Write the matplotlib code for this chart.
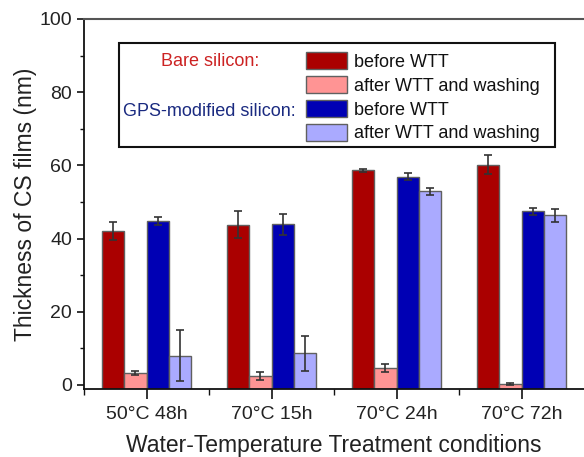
import matplotlib
matplotlib.use('Agg')
import matplotlib.pyplot as plt
import numpy as np
from matplotlib.patches import Rectangle, Patch
from matplotlib.ticker import MultipleLocator, FixedLocator

plt.rcParams['font.family'] = ['Liberation Sans', 'DejaVu Sans']

conditions = ['50°C 48h', '70°C 15h', '70°C 24h', '70°C 72h']

bare_before = [42.0, 43.8, 58.6, 60.2]
bare_before_err = [2.5, 3.7, 0.3, 2.5]
bare_after = [3.3, 2.4, 4.6, 0.2]
bare_after_err = [0.5, 1.0, 1.0, 0.2]
gps_before = [44.8, 43.9, 56.9, 47.4]
gps_before_err = [1.2, 2.8, 1.0, 1.0]
gps_after = [8.0, 8.7, 52.9, 46.3]
gps_after_err = [7.0, 4.8, 1.0, 1.9]

series = [
    (bare_before, bare_before_err, '#aa0000', 'before WTT'),
    (bare_after, bare_after_err, '#ff9494', 'after WTT and washing'),
    (gps_before, gps_before_err, '#0000b4', 'before WTT'),
    (gps_after, gps_after_err, '#aaaaff', 'after WTT and washing'),
]

W, H = 584, 457
fig = plt.figure(figsize=(W / 100, H / 100), dpi=100)


def fx(px):
    return px / W


def fy(py):
    return 1 - py / H


ax = fig.add_axes([fx(84), fy(389.3), fx(500), (389.3 - 19) / H])

y0 = -1.2
ax.set_ylim(y0, 100)
ax.set_xlim(-0.5, 3.5)

x = np.arange(len(conditions))
w = 0.178
offsets = [-1.5 * w, -0.5 * w, 0.5 * w, 1.5 * w]
handles = []
for (vals, errs, col, lab), off in zip(series, offsets):
    vals = np.array(vals)
    # bars start at the bottom spine, which sits a bit below zero
    ax.bar(x + off, vals - y0, bottom=y0, width=w, color=col,
           edgecolor='#606060', linewidth=1.0, zorder=2)
    ax.errorbar(x + off, vals, yerr=errs, fmt='none', ecolor='#333333',
                elinewidth=1.2, capsize=2.6, capthick=1.2, zorder=3)
    handles.append(Patch(facecolor=col, edgecolor='#606060', linewidth=1.0, label=lab))

# axes styling
ax.spines['right'].set_visible(False)
ax.spines['top'].set_color('#555555')
ax.spines['top'].set_linewidth(1.5)
for s in ('left', 'bottom'):
    ax.spines[s].set_color('#111111')
    ax.spines[s].set_linewidth(1.3)

ax.yaxis.set_major_locator(MultipleLocator(20))
ax.yaxis.set_minor_locator(MultipleLocator(10))
ax.xaxis.set_major_locator(FixedLocator(x))
ax.xaxis.set_minor_locator(FixedLocator([-0.5, 0.5, 1.5, 2.5]))
ax.set_xticklabels(conditions)
ax.tick_params(axis='both', which='major', direction='out', length=5, width=1.2,
               labelsize=14, colors='#111111', labelcolor='#222222')
ax.tick_params(axis='both', which='minor', direction='out', length=3, width=1.0,
               colors='#111111')
ax.tick_params(axis='x', which='major', length=7, pad=5)
ax.tick_params(axis='x', which='minor', length=4)

ax.set_ylabel('Thickness of CS films (nm)', fontsize=16.5, color='#222222', labelpad=2)
ax.set_xlabel('Water-Temperature Treatment conditions', fontsize=16.5,
              color='#222222', labelpad=8)

# legend box with group titles
fig.patches.append(Rectangle((fx(119), fy(147)), fx(555 - 119), (147 - 43) / H,
                             transform=fig.transFigure, facecolor='white',
                             edgecolor='#111111', linewidth=1.5, zorder=5))
fig.text(fx(210), fy(61), 'Bare silicon:', color='#cc2222', fontsize=13,
         ha='center', va='center', zorder=6)
fig.text(fx(119 + 90), fy(111), 'GPS-modified silicon:', color='#1a2a80', fontsize=13,
         ha='center', va='center', zorder=6)

leg = ax.legend(handles=handles, loc='upper left',
                bbox_to_anchor=((306 - 84) / 500, (389.3 - 52) / 370.3),
                frameon=False, fontsize=13, handlelength=2.27, handleheight=1.1,
                handletextpad=0.4, labelspacing=0.28, borderpad=0, borderaxespad=0)
leg.set_zorder(7)
for t in leg.get_texts():
    t.set_color('#111111')
leg.remove()
fig.legends.append(leg)

fig.savefig('out.png', dpi=100)
